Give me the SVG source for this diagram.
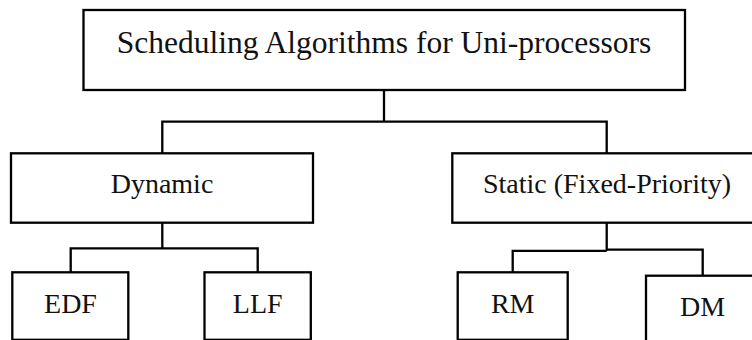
<svg xmlns="http://www.w3.org/2000/svg" width="752" height="340" viewBox="0 0 752 340">
  <style>
    .box { fill: #ffffff; stroke: #000000; stroke-width: 2.3; }
    .wire { fill: none; stroke: #000000; stroke-width: 2.3; stroke-linejoin: miter; }
    .lbl { font-family: "Liberation Serif", "Times New Roman", serif; fill: #111111; text-anchor: middle; }
    .big { font-size: 31.5px; }
    .mid { font-size: 28px; }
  </style>
  <rect width="752" height="340" fill="#ffffff"/>

  <!-- tree connectors -->
  <g id="connectors">
    <path class="wire" d="M384,90 V121.7"/>
    <path class="wire" d="M162.3,153.3 V121.7 H606.7 V153.3"/>
    <path class="wire" d="M162.3,222.7 V248.3"/>
    <path class="wire" d="M70.7,272.3 V248.3 H257.7 V272.3"/>
    <path class="wire" d="M606.7,222.7 V250.8"/>
    <path class="wire" d="M512.7,275 V250.8 H606.7"/>
    <path class="wire" d="M606.7,249.6 H702.7 V275.7"/>
  </g>

  <g id="root">
    <rect class="box" x="83.5" y="10" width="601.5" height="80"/>
    <text class="lbl big" x="384" y="53">Scheduling Algorithms for Uni-processors</text>
  </g>

  <g id="dynamic">
    <rect class="box" x="11" y="153.3" width="302" height="69.4"/>
    <text class="lbl mid" x="162" y="193.3">Dynamic</text>
  </g>

  <g id="static">
    <rect class="box" x="452.3" y="153.3" width="310" height="69.4"/>
    <text class="lbl mid" x="607" y="192.7">Static (Fixed-Priority)</text>
  </g>

  <g id="edf">
    <rect class="box" x="12.3" y="272.3" width="116" height="67.5"/>
    <text class="lbl mid" x="70.5" y="313.3">EDF</text>
  </g>

  <g id="llf">
    <rect class="box" x="204.5" y="272.3" width="106.3" height="67.5"/>
    <text class="lbl mid" x="257.7" y="313">LLF</text>
  </g>

  <g id="rm">
    <rect class="box" x="457.7" y="272.3" width="110" height="67.5"/>
    <text class="lbl mid" x="512.7" y="312.7">RM</text>
  </g>

  <g id="dm">
    <rect class="box" x="646" y="275.7" width="114" height="70"/>
    <text class="lbl mid" x="702.5" y="316">DM</text>
  </g>
</svg>
